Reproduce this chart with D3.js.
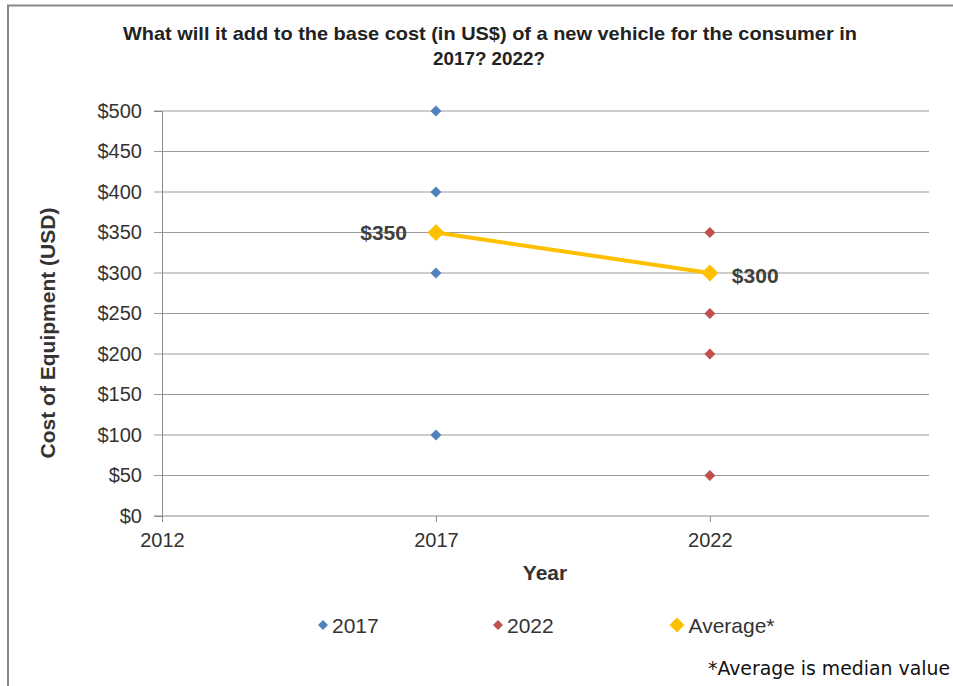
<!DOCTYPE html>
<html>
<head>
<meta charset="utf-8">
<script src="https://cdn.jsdelivr.net/npm/d3@7"></script>
<style>
  body { margin: 0; background: #fff; }
  svg { display: block; font-family: "Liberation Sans", Arial, sans-serif; }
</style>
</head>
<body>
<div id="chart-area"></div>
<script>
const WIDTH = 953;
const HEIGHT = 686;

// data
const years2017 = [2017, 2017, 2017, 2017, 2017];
const values2017 = [500, 400, 350, 300, 100];
const years2022 = [2022, 2022, 2022, 2022, 2022];
const values2022 = [350, 300, 250, 200, 50];
const avgYears = [2017, 2022];
const avgValues = [350, 300];
const xTicks = [2012, 2017, 2022];
const yTicks = [0, 50, 100, 150, 200, 250, 300, 350, 400, 450, 500];

const plot = {left: 162, right: 929, top: 111, bottom: 516};

const x = d3.scaleLinear().domain([2012, 2026]).range([plot.left, plot.right]);
const y = d3.scaleLinear().domain([0, 500]).range([plot.bottom, plot.top]);

const svg = d3.select('#chart-area').append('svg')
    .attr("width", WIDTH)
    .attr("height", HEIGHT);

// frame
svg.append("path")
    .attr("d", `M8,${HEIGHT} L8,5.5 L${WIDTH},5.5`)
    .attr("fill", "none")
    .attr("stroke", "#878787")
    .attr("stroke-width", 2);

// title
const title = svg.append("text")
    .attr("text-anchor", "middle")
    .attr("font-size", 19)
    .attr("font-weight", "bold")
    .attr("fill", "#222");
title.append("tspan").attr("x", 490).attr("y", 40)
    .attr("textLength", 734).attr("lengthAdjust", "spacingAndGlyphs")
    .text("What will it add to the base cost (in US$) of a new vehicle for the consumer in");
title.append("tspan").attr("x", 489).attr("y", 65)
    .attr("textLength", 112).attr("lengthAdjust", "spacingAndGlyphs")
    .text("2017?  2022?");

// gridlines
svg.append("g")
    .selectAll("line")
    .data(yTicks)
    .join("line")
    .attr("x1", plot.left - 8)
    .attr("x2", plot.right)
    .attr("y1", d => y(d))
    .attr("y2", d => y(d))
    .attr("stroke", d => d === 0 ? "#8a8a8a" : "#9a9a9a")
    .attr("stroke-width", 1);

// y axis
const yAxis = svg.append("g")
    .attr("transform", `translate(${plot.left},0)`)
    .call(d3.axisLeft(y).tickValues(yTicks).tickSize(8).tickFormat(d => "$" + d));
yAxis.select(".domain").attr("stroke", "#8a8a8a");
yAxis.selectAll(".tick line").remove();
yAxis.selectAll("text")
    .attr("font-size", 20)
    .attr("fill", "#333")
    .attr("x", -20)
    .attr("font-family", "Liberation Sans, Arial, sans-serif");

// x axis
const xAxis = svg.append("g")
    .attr("transform", `translate(0,${plot.bottom})`)
    .call(d3.axisBottom(x).tickValues(xTicks).tickSize(6).tickFormat(d3.format("d")));
xAxis.select(".domain").remove();
xAxis.selectAll(".tick line").attr("stroke", "#8a8a8a");
xAxis.selectAll("text")
    .attr("font-size", 20)
    .attr("fill", "#333")
    .attr("y", 17)
    .attr("font-family", "Liberation Sans, Arial, sans-serif");

// axis titles
svg.append("text")
    .attr("transform", `translate(55,333) rotate(-90)`)
    .attr("text-anchor", "middle")
    .attr("font-size", 21)
    .attr("font-weight", "bold")
    .attr("fill", "#333")
    .text("Cost of Equipment (USD)");

svg.append("text")
    .attr("x", 545)
    .attr("y", 580)
    .attr("text-anchor", "middle")
    .attr("font-size", 21)
    .attr("font-weight", "bold")
    .attr("fill", "#333")
    .text("Year");

const diamond = s => `M0,${-s} L${s},0 L0,${s} L${-s},0 Z`;

// scatter series
const series = [
    {name: "2017", xs: years2017, ys: values2017, color: "#4F81BD"},
    {name: "2022", xs: years2022, ys: values2022, color: "#C0504D"}
];
series.forEach(s => {
    svg.append("g")
        .selectAll("path")
        .data(s.ys)
        .join("path")
        .attr("transform", (d, i) => `translate(${x(s.xs[i])},${y(d)})`)
        .attr("d", diamond(5.5))
        .attr("fill", s.color);
});

// average line
const line = d3.line().x((d, i) => x(avgYears[i])).y(d => y(d));
svg.append("path")
    .datum(avgValues)
    .attr("d", line)
    .attr("fill", "none")
    .attr("stroke", "#FFC000")
    .attr("stroke-width", 4);

svg.append("g")
    .selectAll("path")
    .data(avgValues)
    .join("path")
    .attr("transform", (d, i) => `translate(${x(avgYears[i])},${y(d)})`)
    .attr("d", diamond(8.5))
    .attr("fill", "#FFC000");

// data labels
svg.append("g")
    .selectAll("text")
    .data(avgValues)
    .join("text")
    .attr("x", (d, i) => i === 0 ? x(avgYears[i]) - 29 : x(avgYears[i]) + 22)
    .attr("y", (d, i) => y(d) + 7 + (i === 1 ? 3 : 0))
    .attr("text-anchor", (d, i) => i === 0 ? "end" : "start")
    .attr("font-size", 21)
    .attr("font-weight", "bold")
    .attr("fill", "#404040")
    .text(d => "$" + d);

// legend
const legendItems = [
    {name: "2017", color: "#4F81BD", x: 323, s: 5},
    {name: "2022", color: "#C0504D", x: 498, s: 5},
    {name: "Average*", color: "#FFC000", x: 677, s: 7.5}
];
const lg = svg.append("g")
    .selectAll("g")
    .data(legendItems)
    .join("g")
    .attr("transform", d => `translate(${d.x},625)`);
lg.append("path")
    .attr("d", d => diamond(d.s))
    .attr("fill", d => d.color);
lg.append("text")
    .attr("x", d => d.s + 4)
    .attr("y", 8)
    .attr("font-size", 21)
    .attr("fill", "#333")
    .text(d => d.name);

// footnote
svg.append("text")
    .attr("x", 950)
    .attr("y", 675)
    .attr("text-anchor", "end")
    .attr("font-size", 19)
    .attr("fill", "#111")
    .attr("font-family", "DejaVu Sans, sans-serif")
    .attr("textLength", 242)
    .attr("lengthAdjust", "spacingAndGlyphs")
    .text("*Average is median value");
</script>
</body>
</html>
